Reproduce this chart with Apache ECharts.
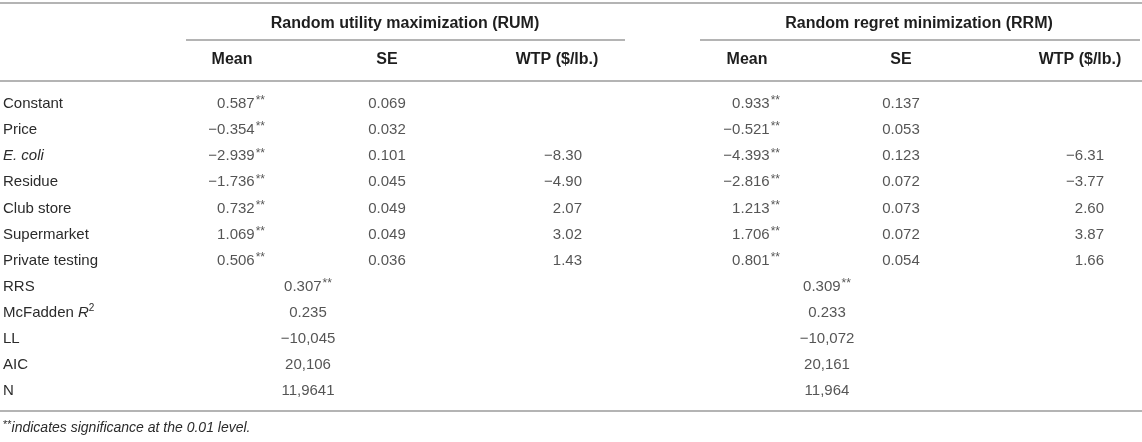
<!DOCTYPE html>
<html>
<head>
<meta charset="utf-8">
<script src="https://cdn.jsdelivr.net/npm/echarts@6/dist/echarts.min.js"></script>
<style>
html,body{margin:0;padding:0;background:#ffffff;}
#chart{width:1142px;height:442px;}
</style>
</head>
<body>
<div id="chart"></div>
<script>
// ---------------- DATA ----------------
const rowLabels = ['Constant', 'Price', 'E. coli', 'Residue', 'Club store', 'Supermarket',
  'Private testing', 'RRS', 'McFadden R2', 'LL', 'AIC', 'N'];
const groupHeaders = ['Random utility maximization (RUM)', 'Random regret minimization (RRM)'];
const subHeaders = ['Mean', 'SE', 'WTP ($/lb.)'];

// coefficient rows (first 7 rows)
const rumMean = [0.587, -0.354, -2.939, -1.736, 0.732, 1.069, 0.506];
const rumSE   = [0.069, 0.032, 0.101, 0.045, 0.049, 0.049, 0.036];
const rumWTP  = [null, null, -8.30, -4.90, 2.07, 3.02, 1.43];
const rrmMean = [0.933, -0.521, -4.393, -2.816, 1.213, 1.706, 0.801];
const rrmSE   = [0.137, 0.053, 0.123, 0.072, 0.073, 0.072, 0.054];
const rrmWTP  = [null, null, -6.31, -3.77, 2.60, 3.87, 1.66];
const meanSignificant = [true, true, true, true, true, true, true];

// model statistics rows (RRS, McFadden R2, LL, AIC, N)
const rumStats = ['0.307**', '0.235', '\u221210,045', '20,106', '11,9641'];
const rrmStats = ['0.309**', '0.233', '\u221210,072', '20,161', '11,964'];

const footnoteMark = '**';
const footnoteText = 'indicates significance at the 0.01 level.';

// ---------------- STYLE / LAYOUT ----------------
const FONT = '"Liberation Sans", Arial, Helvetica, sans-serif';
const TEXT = '#2b2b2b';
const HEAD = '#1e1e1e';
const RULE = '#b4b4b4';
const FS = 15;
const W = 1142;
const L = {
  gridTop: 91, gridHeight: 313,
  labelMargin: 3,
  rum: { mean: 265, se: 387, wtp: 582, stat: 308, head: 405, rule: [186, 625], sub: [232, 387, 557] },
  rrm: { mean: 780, se: 901, wtp: 1104, stat: 827, head: 919, rule: [700, 1140], sub: [747, 901, 1080] },
  y: { top: 3, group: 24, groupRule: 40, sub: 60, mid: 81, bottom: 411, note: 428 }
};

const RICH = {
  v:   { fontFamily: FONT, fontSize: FS, color: TEXT, lineHeight: 18 },
  s:   { fontFamily: FONT, fontSize: 12, color: TEXT, lineHeight: 16, verticalAlign: 'top', padding: [0, 0, 0, 1] },
  it:  { fontFamily: FONT, fontSize: FS, color: TEXT, fontStyle: 'italic', lineHeight: 18 },
  sup: { fontFamily: FONT, fontSize: 10, color: TEXT, lineHeight: 12, verticalAlign: 'top' }
};

function fmt(v, d) {
  return (v < 0 ? '\u2212' : '') + Math.abs(v).toFixed(d);
}
function richStars(t) {
  if (t.endsWith('**')) return '{v|' + t.slice(0, -2) + '}{s|**}';
  return t;
}

function column(name, x, rowStart, texts, align) {
  const data = [];
  texts.forEach(function (t, i) {
    if (t === null || t === '') return;
    data.push({ value: [x, rowStart + i], txt: t });
  });
  return {
    type: 'scatter', name: name, symbolSize: 1, silent: true,
    itemStyle: { color: 'rgba(0,0,0,0)' },
    data: data,
    label: {
      show: true, position: 'inside', align: align, verticalAlign: 'middle',
      formatter: function (p) { return p.data.txt; },
      fontFamily: FONT, fontSize: FS, color: TEXT, rich: RICH
    }
  };
}

const meanText = arr => arr.map((v, i) => meanSignificant[i] ? '{v|' + fmt(v, 3) + '}{s|**}' : fmt(v, 3));
const seText = arr => arr.map(v => fmt(v, 3));
const wtpText = arr => arr.map(v => v === null ? null : fmt(v, 2));
const statStart = rumMean.length;

const series = [
  column('RUM Mean', L.rum.mean, 0, meanText(rumMean), 'right'),
  column('RUM SE', L.rum.se, 0, seText(rumSE), 'center'),
  column('RUM WTP', L.rum.wtp, 0, wtpText(rumWTP), 'right'),
  column('RRM Mean', L.rrm.mean, 0, meanText(rrmMean), 'right'),
  column('RRM SE', L.rrm.se, 0, seText(rrmSE), 'center'),
  column('RRM WTP', L.rrm.wtp, 0, wtpText(rrmWTP), 'right'),
  column('RUM stats', L.rum.stat, statStart, rumStats.map(richStars), 'center'),
  column('RRM stats', L.rrm.stat, statStart, rrmStats.map(richStars), 'center')
];

function hline(x1, x2, y) {
  return { type: 'line', silent: true, shape: { x1: x1, y1: y, x2: x2, y2: y },
    style: { stroke: RULE, lineWidth: 2 } };
}
function htext(t, x, y) {
  return { type: 'text', silent: true, x: x, y: y,
    style: { text: t, align: 'center', verticalAlign: 'middle',
      fontFamily: FONT, fontSize: 16, fontWeight: 'bold', fill: HEAD } };
}

const graphics = [
  hline(0, W, L.y.top),
  hline(L.rum.rule[0], L.rum.rule[1], L.y.groupRule),
  hline(L.rrm.rule[0], L.rrm.rule[1], L.y.groupRule),
  hline(0, W, L.y.mid),
  hline(0, W, L.y.bottom),
  htext(groupHeaders[0], L.rum.head, L.y.group),
  htext(groupHeaders[1], L.rrm.head, L.y.group)
];
subHeaders.forEach(function (h, i) {
  graphics.push(htext(h, L.rum.sub[i], L.y.sub));
  graphics.push(htext(h, L.rrm.sub[i], L.y.sub));
});
graphics.push({
  type: 'text', silent: true, x: 3, y: L.y.note,
  style: {
    text: '{s|' + footnoteMark + '}{i|' + footnoteText + '}',
    align: 'left', verticalAlign: 'middle',
    rich: {
      s: { fontFamily: FONT, fontSize: 11, fill: TEXT, lineHeight: 14, verticalAlign: 'top' },
      i: { fontFamily: FONT, fontSize: 14, fontStyle: 'italic', fill: TEXT, lineHeight: 17 }
    }
  }
});

const chart = echarts.init(document.getElementById('chart'), null, { renderer: 'canvas' });
chart.setOption({
  animation: false,
  backgroundColor: '#ffffff',
  grid: { left: 0, right: 0, top: L.gridTop, height: L.gridHeight, containLabel: false },
  xAxis: { type: 'value', min: 0, max: W, show: false },
  yAxis: {
    type: 'category', data: rowLabels, inverse: true,
    axisLine: { show: false }, axisTick: { show: false }, splitLine: { show: false },
    axisLabel: {
      inside: true, margin: L.labelMargin, align: 'left',
      fontFamily: FONT, fontSize: FS, color: TEXT, rich: RICH,
      formatter: function (v) {
        if (v === 'E. coli') return '{it|E. coli}';
        if (v === 'McFadden R2') return '{v|McFadden }{it|R}{sup|2}';
        return v;
      }
    }
  },
  series: series,
  graphic: graphics
});
</script>
</body>
</html>
